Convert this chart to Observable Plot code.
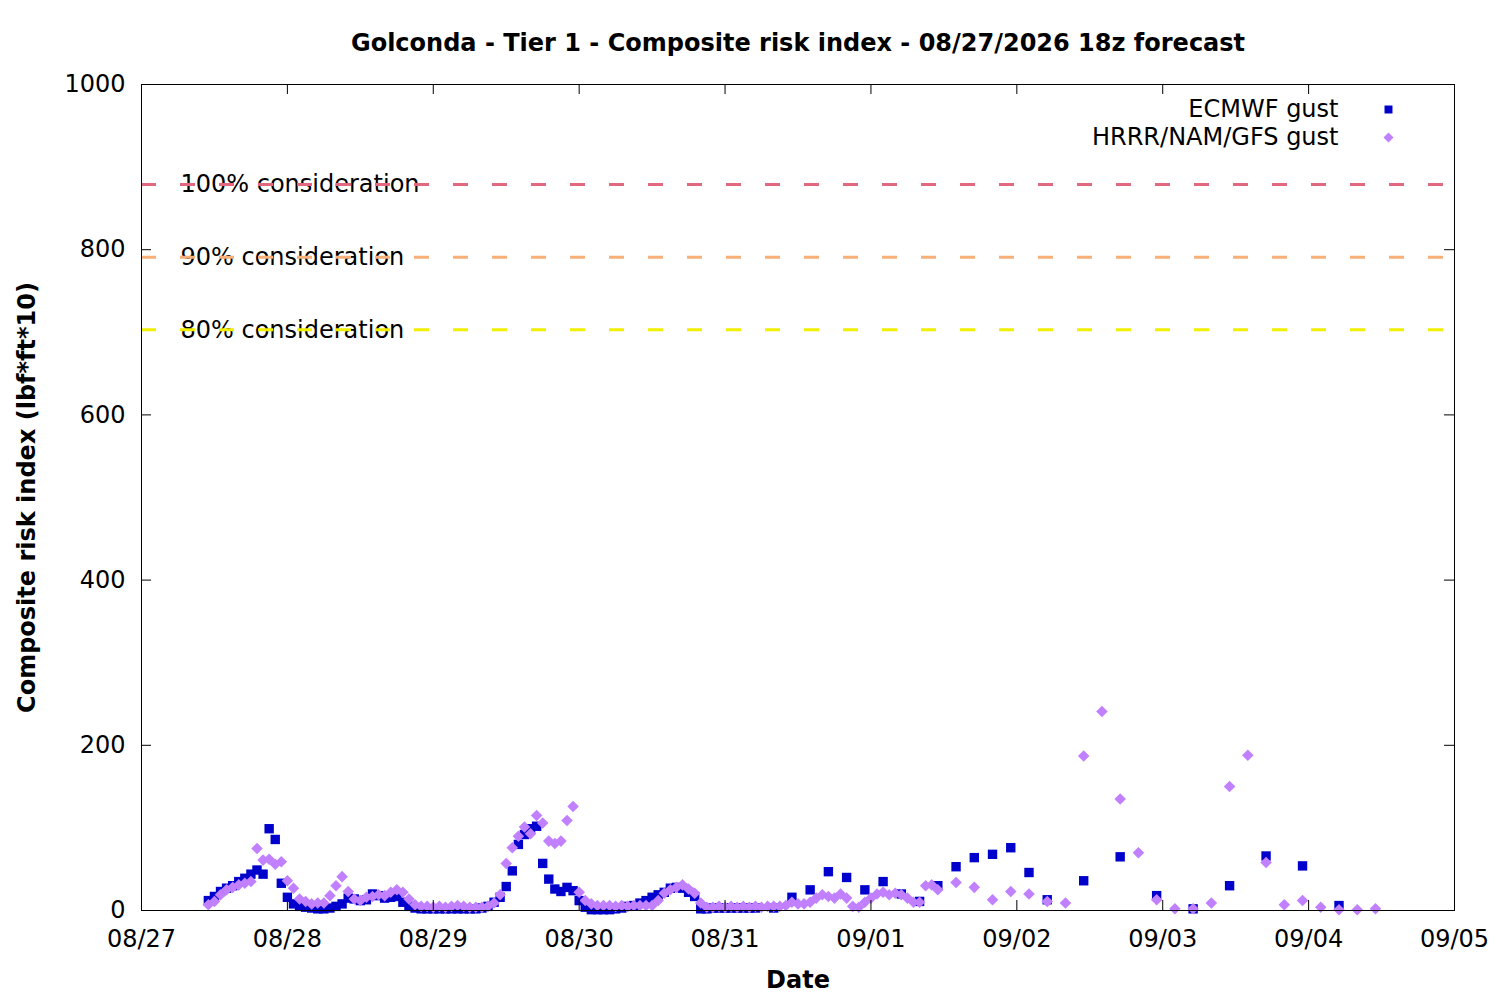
<!DOCTYPE html>
<html>
<head>
<meta charset="utf-8">
<script src="https://cdn.jsdelivr.net/npm/d3@7"></script>
<script src="https://cdn.jsdelivr.net/npm/@observablehq/plot@0.6"></script>
<style>
  body { margin: 0; background: #fff; }
  #chart svg { display: block; }
</style>
</head>
<body>
<div id="chart"></div>
<script>
// ---- Text ----
const chartTitle = "Golconda - Tier 1 - Composite risk index - 08/27/2026 18z forecast";
const xLabel = "Date";
const yLabel = "Composite risk index (lbf*ft*10)";
const seriesNames = ["ECMWF gust", "HRRR/NAM/GFS gust"];

// ---- Threshold lines ----
const thresholdLabels = ["100% consideration", "90% consideration", "80% consideration"];
const thresholdValues = [879, 791, 703];
const thresholdColors = ["#e2687f", "#f8b07a", "#f0f000"];

// ---- Axis ticks ----
const yTicks = [0, 200, 400, 600, 800, 1000];
const xTickDays = ["2026-08-27", "2026-08-28", "2026-08-29", "2026-08-30", "2026-08-31",
                   "2026-09-01", "2026-09-02", "2026-09-03", "2026-09-04", "2026-09-05"];

// ---- ECMWF gust (hourly from 08/27 11:00, then 3-hourly, then 6-hourly) ----
const ecmwfHourlyStart = "2026-08-27T11:00:00Z";
const ecmwfHourly = [
  12, 17, 23, 27, 30, 35, 39, 44, 49, 44,
  99, 86, 33, 16, 8, 5, 4, 3, 2, 2,
  3, 5, 8, 15, 14, 12, 13, 20, 18, 15,
  16, 17, 10, 5, 3, 2, 2, 2, 2, 2,
  2, 2, 2, 2, 2, 3, 5, 10, 16, 29,
  48, 80, 92, 99, 102, 57, 38, 26, 23, 28,
  24, 12, 4, 1, 1, 1, 1, 2, 3, 5,
  6, 9, 12, 16, 19, 22, 27, 28, 27, 22,
  17, 2, 2, 3, 3, 3, 3, 3, 3, 3,
  3
];
const ecmwf3hStart = "2026-08-31T08:00:00Z";
const ecmwf3h = [3, 16, 25, 47, 40, 25, 35, 20, 11, 30, 53, 64, 68, 76, 46, 13];
const ecmwf6hStart = "2026-09-02T11:00:00Z";
const ecmwf6h = [36, 65, 18, 2, 30, 66, 54, 6];

// ---- HRRR/NAM/GFS gust (hourly from 08/27 11:00, then 3-hourly) ----
const hrrrHourlyStart = "2026-08-27T11:00:00Z";
const hrrrHourly = [
  7, 11, 19, 25, 28, 31, 33, 35, 75, 61,
  62, 56, 59, 36, 27, 14, 11, 8, 9, 9,
  18, 30, 41, 23, 14, 12, 16, 17, 19, 18,
  22, 25, 22, 14, 7, 5, 5, 4, 5, 4,
  5, 6, 5, 4, 4, 4, 5, 9, 19, 57,
  76, 90, 101, 93, 115, 106, 84, 81, 84, 109,
  126, 22, 12, 8, 6, 6, 6, 5, 6, 5,
  6, 6, 6, 6, 12, 21, 25, 28, 31, 26,
  21, 9, 4, 4, 5, 4, 5, 4, 5, 4,
  5, 4, 5, 5, 5, 6, 10, 8, 8, 10,
  15, 19, 17, 15, 20, 15, 5, 4, 10, 15,
  20, 22, 19, 21, 19, 15, 10, 10, 30, 31,
  25
];
const hrrr3hStart = "2026-09-01T14:00:00Z";
const hrrr3h = [34, 28, 13, 23, 20, 11, 9, 187, 241, 135, 70, 13, 2, 2, 9, 150, 188, 58, 7, 12, 4, 1, 1, 2];

// ---- Build tables ----
const HOUR = 3600e3;
function series(startIso, stepHours, values) {
  const t0 = Date.parse(startIso);
  return values.map((v, i) => ({ t: new Date(t0 + i * stepHours * HOUR), v }));
}
const ecmwf = [
  ...series(ecmwfHourlyStart, 1, ecmwfHourly),
  ...series(ecmwf3hStart, 3, ecmwf3h),
  ...series(ecmwf6hStart, 6, ecmwf6h)
];
const hrrr = [
  ...series(hrrrHourlyStart, 1, hrrrHourly),
  ...series(hrrr3hStart, 3, hrrr3h)
];
const xTicks = xTickDays.map(d => new Date(d + "T00:00:00Z"));
const thresholds = thresholdValues.map((v, i) => ({ v, label: thresholdLabels[i], color: thresholdColors[i] }));

// ---- Layout ----
const W = 1500, H = 1000;
const mL = 141, mR = 46, mT = 84, mB = 90;
const plotW = W - mL - mR, plotH = H - mT - mB;
const xDomain = [xTicks[0], xTicks[xTicks.length - 1]];
const yDomain = [0, 1000];
const tickPx = 10;
const tickY = tickPx * (yDomain[1] - yDomain[0]) / plotH;
const tickX = tickPx * (xDomain[1] - xDomain[0]) / plotW;

const FONT = "DejaVu Sans";
const FS = 24;
const blue = "#0000cc";
const purple = "#c080ff";

const chart = Plot.plot({
  width: W, height: H,
  marginLeft: mL, marginRight: mR, marginTop: mT, marginBottom: mB,
  style: { fontFamily: FONT, fontSize: FS + "px", background: "white", color: "black", overflow: "visible" },
  x: { type: "utc", domain: xDomain },
  y: { domain: yDomain },
  marks: [
    // threshold labels under the dashed lines
    Plot.text(thresholds, { y: "v", text: "label", frameAnchor: "left", dx: 39, textAnchor: "start",
      lineAnchor: "middle", fill: "black", fontSize: FS }),
    Plot.ruleY(thresholds, { y: "v", stroke: "color", strokeWidth: 3, strokeDasharray: "15,24" }),
    // data
    Plot.dot(ecmwf, { x: "t", y: "v", symbol: "square", fill: blue, r: 5.3 }),
    Plot.dot(hrrr, { x: "t", y: "v", symbol: "diamond2", fill: purple, r: 5.2 }),
    // frame and inward ticks on all sides
    Plot.frame({ stroke: "black", strokeWidth: 1 }),
    Plot.ruleX(xTicks, { x: d => d, y1: yDomain[0], y2: yDomain[0] + tickY, stroke: "black" }),
    Plot.ruleX(xTicks, { x: d => d, y1: yDomain[1], y2: yDomain[1] - tickY, stroke: "black" }),
    Plot.ruleY(yTicks, { y: d => d, x1: xDomain[0], x2: new Date(+xDomain[0] + tickX), stroke: "black" }),
    Plot.ruleY(yTicks, { y: d => d, x1: xDomain[1], x2: new Date(+xDomain[1] - tickX), stroke: "black" }),
    // tick labels
    Plot.axisX({ ticks: xTicks, tickFormat: d3.utcFormat("%m/%d"), tickSize: 0, tickPadding: 19, label: null, fontSize: FS }),
    Plot.axisY({ ticks: yTicks, tickFormat: d3.format("d"), tickSize: 0, tickPadding: 16, label: null, fontSize: FS }),
    // axis titles and chart title
    Plot.text([xLabel], { text: d => d, frameAnchor: "bottom", dy: 70, textAnchor: "middle", lineAnchor: "middle", fontWeight: "bold", fontSize: FS }),
    Plot.text([yLabel], { text: d => d, frameAnchor: "left", dx: -114, rotate: -90, textAnchor: "middle", lineAnchor: "middle", fontWeight: "bold", fontSize: FS }),
    Plot.text([chartTitle], { text: d => d, frameAnchor: "top", dy: -41, textAnchor: "middle", lineAnchor: "middle", fontWeight: "bold", fontSize: FS }),
    // legend
    Plot.text([seriesNames[0]], { text: d => d, frameAnchor: "top-right", dx: -116, dy: 25, textAnchor: "end", lineAnchor: "middle", fontSize: FS }),
    Plot.text([seriesNames[1]], { text: d => d, frameAnchor: "top-right", dx: -116, dy: 53, textAnchor: "end", lineAnchor: "middle", fontSize: FS }),
    Plot.dot([seriesNames[0]], { frameAnchor: "top-right", dx: -66, dy: 25, symbol: "square", fill: blue, r: 4.5 }),
    Plot.dot([seriesNames[1]], { frameAnchor: "top-right", dx: -66, dy: 53, symbol: "diamond2", fill: purple, r: 4.5 })
  ]
});
document.getElementById("chart").appendChild(chart);
</script>
</body>
</html>
